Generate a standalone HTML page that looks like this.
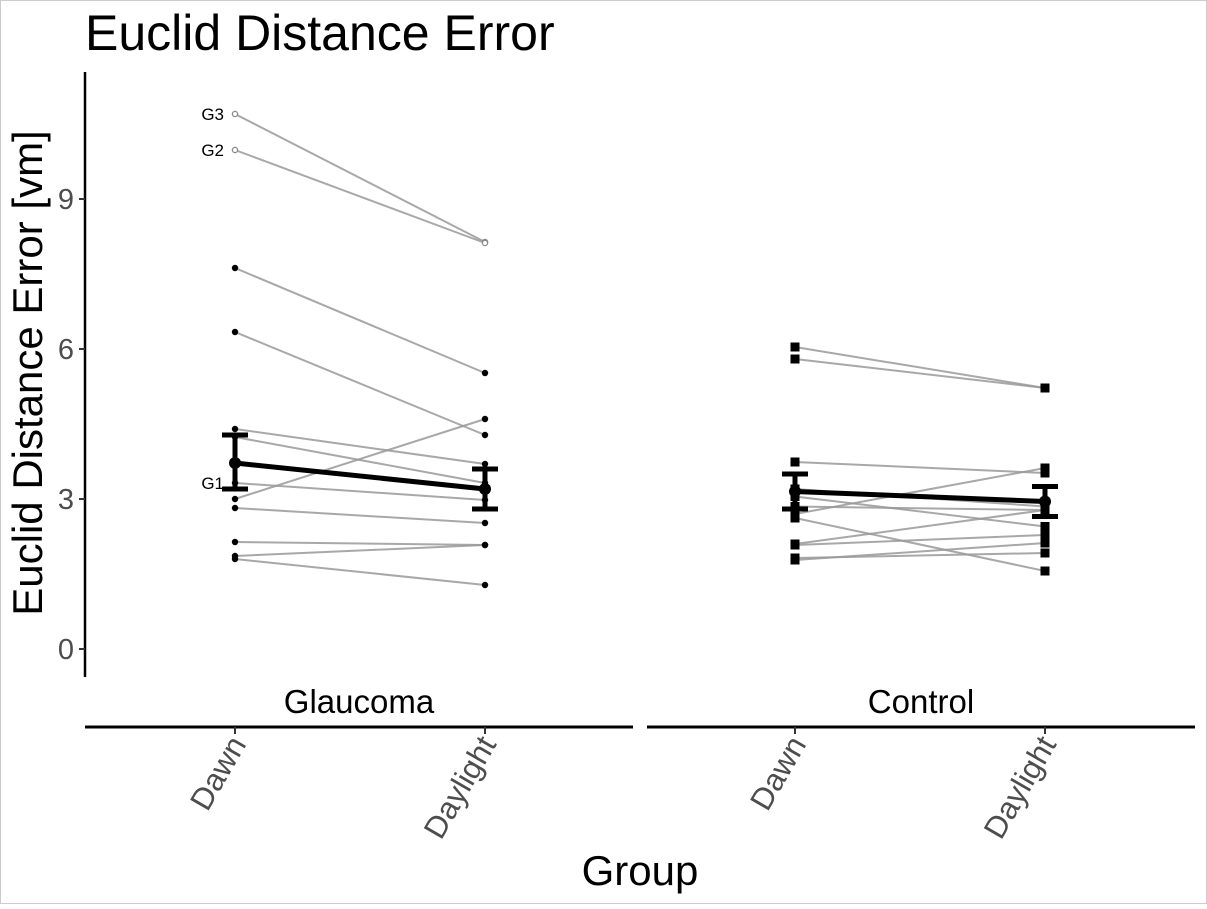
<!DOCTYPE html>
<html><head><meta charset="utf-8"><style>body{margin:0;background:#fff}</style></head>
<body>
<svg id="c" width="1207" height="904" xmlns="http://www.w3.org/2000/svg" font-family="Liberation Sans, sans-serif">
<rect x="0.5" y="0.5" width="1206" height="903" fill="#fff" stroke="#ccc"/>
<text x="85" y="50" font-size="50" fill="#000">Euclid Distance Error</text>
<text transform="translate(42,373) rotate(-90)" text-anchor="middle" font-size="42">Euclid Distance Error [vm]</text>
<text x="640" y="885" text-anchor="middle" font-size="42">Group</text>
<line x1="85" y1="72" x2="85" y2="677" stroke="#000" stroke-width="2.5"/>
<g id="g"></g>
</svg>
<script>
const yTicks=[0,3,6,9];
const panels=['Glaucoma','Control'];
const conditions=['Dawn','Daylight'];
const glaucomaDawn=[10.7,9.98,7.62,6.34,4.4,4.24,3.32,3.0,2.82,2.14,1.86,1.8];
const glaucomaDaylight=[8.14,8.12,5.52,4.28,3.7,3.32,2.98,4.6,2.52,2.08,2.08,1.28];
const glaucomaLabels=['G3','G2','','','','','G1','','','','',''];
const controlDawn=[6.04,5.8,3.74,3.2,3.05,2.85,2.62,2.1,2.08,1.82,1.78,2.7];
const controlDaylight=[5.22,5.22,3.52,2.85,2.45,2.78,1.56,2.78,2.28,1.92,2.12,3.62];
const meanGlaucoma=[3.72,3.2], ciGlaucomaLo=[3.2,2.8], ciGlaucomaHi=[4.28,3.6];
const meanControl=[3.15,2.95], ciControlLo=[2.8,2.65], ciControlHi=[3.5,3.25];

const NS='http://www.w3.org/2000/svg', g=document.getElementById('g');
const y=v=>649-v*50;
const xs=[[235,485],[795,1045]];
function el(t,a){const e=document.createElementNS(NS,t);for(const k in a)e.setAttribute(k,a[k]);g.appendChild(e);return e;}
yTicks.forEach(t=>{
  const l=el('line',{x1:79,x2:85,y1:y(t),y2:y(t),stroke:'#333','stroke-width':2});
  
  
  const tx=el('text',{x:74,y:y(t)+10,'text-anchor':'end','font-size':29,fill:'#4d4d4d'});tx.textContent=t;
  
  
});
const strips=[[85,633],[647,1195]];
panels.forEach((p,i)=>{
  const t=el('text',{x:(strips[i][0]+strips[i][1])/2,y:713,'text-anchor':'middle','font-size':33});t.textContent=p;
  
  
  const l=el('line',{x1:strips[i][0],x2:strips[i][1],y1:727,y2:727,stroke:'#000','stroke-width':3});
  
  
  conditions.forEach((c,j)=>{
    const x=xs[i][j];
    const tk=el('line',{x1:x,x2:x,y1:727,y2:734,stroke:'#333','stroke-width':2});
    
    
    const tx=el('text',{transform:`translate(${x+12},${744}) rotate(-60)`,'text-anchor':'end','font-size':31,fill:'#4d4d4d'});tx.textContent=c;
    
    
  });
});
function series(i,a,b,square,labels){
  a.forEach((v,k)=>{
    const l=el('line',{x1:xs[i][0],x2:xs[i][1],y1:y(v),y2:y(b[k]),stroke:'#999','stroke-opacity':0.85,'stroke-width':2});
    
    
    [[v,0],[b[k],1]].forEach(([val,j])=>{
      const open=labels&&labels[k]&&labels[k]!=='G1';
      let m;
      if(square) m=el('rect',{x:xs[i][j]-4.5,y:y(val)-4.5,width:9,height:9,fill:'#000'});
      else if(open) m=el('circle',{cx:xs[i][j],cy:y(val),r:2.6,fill:'#fff',stroke:'#888','stroke-width':1.3});
      else m=el('circle',{cx:xs[i][j],cy:y(val),r:3.2,fill:'#000'});
      
      
    });
    if(labels&&labels[k]){
      const t=el('text',{x:xs[i][0]-11,y:y(v)+6,'text-anchor':'end','font-size':17});t.textContent=labels[k];
      
      
    }
  });
}
series(0,glaucomaDawn,glaucomaDaylight,false,glaucomaLabels);
series(1,controlDawn,controlDaylight,true,null);
function mean(i,m,lo,hi){
  const l=el('line',{x1:xs[i][0],x2:xs[i][1],y1:y(m[0]),y2:y(m[1]),stroke:'#000','stroke-width':5});
  
  
  [0,1].forEach(j=>{
    const x=xs[i][j];
    const e=el('path',{d:`M${x},${y(lo[j])}V${y(hi[j])}M${x-13},${y(lo[j])}H${x+13}M${x-13},${y(hi[j])}H${x+13}`,stroke:'#000','stroke-width':5,fill:'none'});
    
    
    const c=el('circle',{cx:x,cy:y(m[j]),r:6,fill:'#000'});
    
    
  });
}
mean(0,meanGlaucoma,ciGlaucomaLo,ciGlaucomaHi);
mean(1,meanControl,ciControlLo,ciControlHi);
</script>
</body></html>
